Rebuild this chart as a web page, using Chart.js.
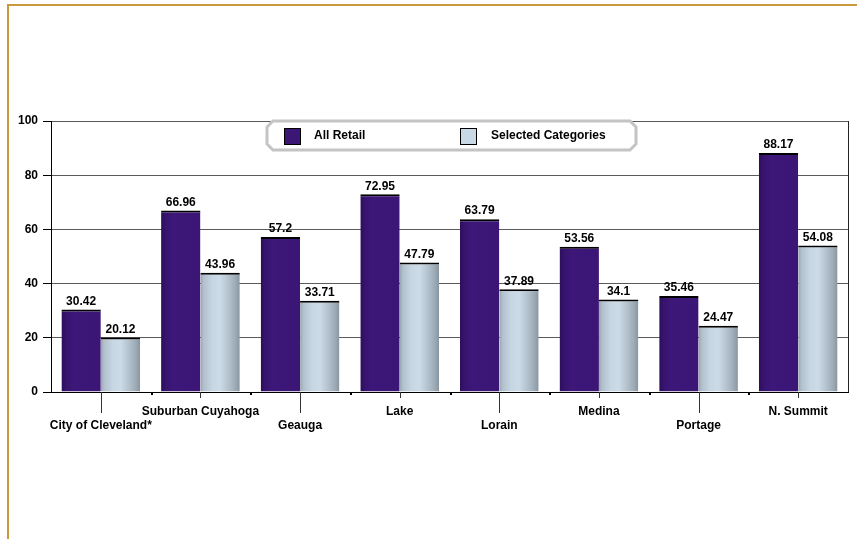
<!DOCTYPE html>
<html>
<head>
<meta charset="utf-8">
<script src="https://cdn.jsdelivr.net/npm/chart.js@4/dist/chart.umd.min.js"></script>
<style>
  body { margin: 0; background: #fff; }
  canvas { display: block; }
</style>
</head>
<body>
<canvas id="retailChart" width="857" height="539"></canvas>
<script>
// counties and the two sales series
const categories = ['City of Cleveland*', 'Suburban Cuyahoga', 'Geauga', 'Lake', 'Lorain', 'Medina', 'Portage', 'N. Summit'];
const allRetail = [30.42, 66.96, 57.2, 72.95, 63.79, 53.56, 35.46, 88.17];
const selectedCategories = [20.12, 43.96, 33.71, 47.79, 37.89, 34.1, 24.47, 54.08];
const yTicks = [0, 20, 40, 60, 80, 100];

const seriesNames = ['All Retail', 'Selected Categories'];
const PURPLE = '#3b1675';
const LIGHT = '#c8d8e4';
const FONT = '"Liberation Sans", Arial, sans-serif';
const CAT_PCT = 0.79;

// staggered labels: every other one drops to a second row
const xLabels = categories.map((c, i) => i % 2 === 0 ? ['', c] : c);

function barSpan(chart, index, dsIndex) {
    const xs = chart.scales.x;
    const catW = (xs.right - xs.left) / categories.length;
    const w = catW * CAT_PCT / 2;
    const c = xs.getPixelForValue(index);
    const left = dsIndex === 0 ? c - w : c;
    return [left, left + w];
}

function purpleFill(context) {
    const chart = context.chart;
    if (!chart.chartArea) return PURPLE;
    const [l, r] = barSpan(chart, context.dataIndex, 0);
    const g = chart.ctx.createLinearGradient(l, 0, r, 0);
    g.addColorStop(0, '#2c0e5c');
    g.addColorStop(0.12, '#37146e');
    g.addColorStop(0.3, '#3d1779');
    g.addColorStop(1, '#3b1675');
    return g;
}

function lightFill(context) {
    const chart = context.chart;
    if (!chart.chartArea) return LIGHT;
    const [l, r] = barSpan(chart, context.dataIndex, 1);
    const g = chart.ctx.createLinearGradient(l, 0, r, 0);
    g.addColorStop(0, '#96a4b0');
    g.addColorStop(0.08, '#b2c0cc');
    g.addColorStop(0.3, '#c6d6e2');
    g.addColorStop(0.5, '#cbdbe7');
    g.addColorStop(0.7, '#b6c4d0');
    g.addColorStop(0.88, '#9eacb8');
    g.addColorStop(1, '#8896a2');
    return g;
}

// outer frame, axis ticks, value labels and the legend box
const decorations = {
    id: 'decorations',
    beforeDraw(chart) {
        const ctx = chart.ctx;
        ctx.save();
        ctx.strokeStyle = '#c9983f';
        ctx.lineWidth = 2;
        ctx.beginPath();
        ctx.moveTo(8, chart.height);
        ctx.lineTo(8, 5);
        ctx.lineTo(chart.width, 5);
        ctx.stroke();
        ctx.restore();
    },
    afterDatasetsDraw(chart) {
        const ctx = chart.ctx;
        const xs = chart.scales.x;
        const area = chart.chartArea;
        ctx.save();

        // value labels
        ctx.font = 'bold 12px ' + FONT;
        ctx.fillStyle = '#000';
        ctx.textAlign = 'center';
        ctx.textBaseline = 'bottom';
        chart.data.datasets.forEach((ds, di) => {
            chart.getDatasetMeta(di).data.forEach((bar, i) => {
                ctx.fillText(String(ds.data[i]), bar.x, bar.y - 2);
            });
        });

        // category ticks and boundary dots
        ctx.strokeStyle = '#333';
        ctx.lineWidth = 1;
        categories.forEach((c, i) => {
            const x = Math.round(xs.getPixelForValue(i)) + 0.5;
            ctx.beginPath();
            ctx.moveTo(x, area.bottom);
            ctx.lineTo(x, area.bottom + (i % 2 === 0 ? 21 : 6));
            ctx.stroke();
            if (i > 0) {
                const bx = Math.round((xs.getPixelForValue(i - 1) + xs.getPixelForValue(i)) / 2);
                ctx.fillStyle = '#000';
                ctx.fillRect(bx, area.bottom + 1, 2, 2);
            }
        });

        // legend
        const lx = 267, ly = 121, lw = 369, lh = 29, ch = 6;
        ctx.beginPath();
        ctx.moveTo(lx + ch, ly);
        ctx.lineTo(lx + lw - ch, ly);
        ctx.lineTo(lx + lw, ly + ch);
        ctx.lineTo(lx + lw, ly + lh - ch);
        ctx.lineTo(lx + lw - ch, ly + lh);
        ctx.lineTo(lx + ch, ly + lh);
        ctx.lineTo(lx, ly + lh - ch);
        ctx.lineTo(lx, ly + ch);
        ctx.closePath();
        ctx.fillStyle = '#fff';
        ctx.fill();
        ctx.lineWidth = 3;
        ctx.strokeStyle = '#c4c4c4';
        ctx.stroke();

        const swatches = [[284, PURPLE], [460, LIGHT]];
        const textX = [314, 491];
        ctx.lineWidth = 1;
        ctx.strokeStyle = '#000';
        ctx.textAlign = 'left';
        ctx.textBaseline = 'middle';
        ctx.font = 'bold 12px ' + FONT;
        swatches.forEach(([sx, col], k) => {
            ctx.fillStyle = col;
            ctx.fillRect(sx, 128, 16, 16);
            ctx.strokeRect(sx + 0.5, 128.5, 16, 16);
            ctx.fillStyle = '#000';
            ctx.fillText(seriesNames[k], textX[k], 136);
        });

        // right edge of the plot
        ctx.strokeStyle = '#222';
        ctx.beginPath();
        ctx.moveTo(area.right + 0.5, area.top);
        ctx.lineTo(area.right + 0.5, area.bottom);
        ctx.stroke();
        ctx.restore();
    }
};

new Chart(document.getElementById('retailChart'), {
    type: 'bar',
    data: {
        labels: xLabels,
        datasets: [
            {
                label: seriesNames[0],
                data: allRetail,
                backgroundColor: purpleFill,
                borderColor: '#000',
                borderWidth: { top: 2, left: 0, right: 0, bottom: 0 },
                borderSkipped: 'start'
            },
            {
                label: seriesNames[1],
                data: selectedCategories,
                backgroundColor: lightFill,
                borderColor: '#000',
                borderWidth: { top: 2, left: 0, right: 0, bottom: 0 },
                borderSkipped: 'start'
            }
        ]
    },
    options: {
        responsive: false,
        animation: false,
        events: [],
        layout: { padding: { top: 121, right: 9, bottom: 97, left: 0 } },
        datasets: {
            bar: { categoryPercentage: CAT_PCT, barPercentage: 1 }
        },
        plugins: {
            legend: { display: false },
            tooltip: { enabled: false }
        },
        scales: {
            x: {
                grid: { display: false, drawTicks: false },
                border: { color: '#000', width: 1 },
                ticks: {
                    autoSkip: false,
                    maxRotation: 0,
                    padding: 12,
                    color: '#000',
                    font: { family: FONT, size: 12, weight: 'bold', lineHeight: 1.2 }
                },
                afterFit(scale) { scale.height = 50; }
            },
            y: {
                min: 0,
                max: 100,
                afterBuildTicks(scale) {
                    scale.ticks = yTicks.map(v => ({ value: v }));
                },
                grid: {
                    color: '#5a5a5a',
                    lineWidth: 1,
                    tickLength: 8,
                    tickColor: '#000'
                },
                border: { color: '#000', width: 1 },
                ticks: {
                    padding: 5,
                    color: '#000',
                    font: { family: FONT, size: 12, weight: 'bold' }
                },
                afterFit(scale) { scale.width = 51; }
            }
        }
    },
    plugins: [decorations]
});
</script>
</body>
</html>
